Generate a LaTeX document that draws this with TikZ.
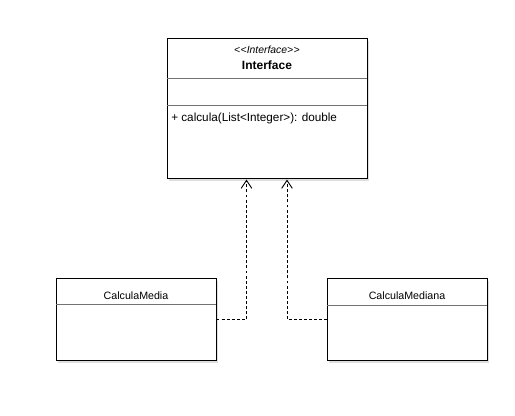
\documentclass[tikz,border=0pt]{standalone}
\usepackage{fontspec}
\setmainfont{Liberation Sans}[Ligatures=NoCommon]
\usetikzlibrary{arrows.meta,shadows}
\begin{document}
\begin{tikzpicture}[x=0.75pt,y=-0.75pt,
  box/.style={draw=black,line width=0.75pt,fill=white,drop shadow={shadow xshift=1.5pt,shadow yshift=-1.5pt,opacity=0.25,fill=gray}},
  divider/.style={draw=black!55,line width=0.6pt},
  lbl/.style={inner sep=0pt,font=\fontsize{8.8}{10}\selectfont},
  real/.style={draw=black,line width=0.7pt,dashed,dash pattern=on 2.2pt off 1.6pt,-{Straight Barb[length=6pt,width=8pt,line width=0.7pt]}}]
\useasboundingbox (0,0) rectangle (515,416);
\fill[white] (0,0) rectangle (515,416);
% Interface
\path[box] (167,39) rectangle (367,179);
\node[name=iface,inner sep=0pt,minimum width=200*0.75pt,minimum height=140*0.75pt,anchor=north west] at (167,39) {};
\draw[divider] (167,78) -- (367,78);
\draw[divider] (167,105) -- (367,105);
\node[lbl,name=ster,font=\fontsize{7.8}{9}\selectfont\itshape] at (267,50) {\textless\kern0.3pt\textless Interface\textgreater\kern0.3pt\textgreater};
\node[lbl,name=iname,font=\fontsize{9}{10}\selectfont\bfseries] at (267,65) {Interface};
\node[lbl,name=op,anchor=west] at (171,118) {+ calcula(List\textless Integer\textgreater): double};
% CalculaMedia
\path[box] (56,279) rectangle (216,361);
\node[name=media,inner sep=0pt,minimum width=160*0.75pt,minimum height=82*0.75pt,anchor=north west] at (56,279) {};
\draw[divider] (56,304) -- (216,304);
\node[lbl,name=mediat,font=\fontsize{8}{9}\selectfont] at (136,296) {CalculaMedia};
% CalculaMediana
\path[box] (327,279) rectangle (487,361);
\node[name=mediana,inner sep=0pt,minimum width=160*0.75pt,minimum height=82*0.75pt,anchor=north west] at (327,279) {};
\draw[divider] (327,305) -- (487,305);
\node[lbl,name=medianat,font=\fontsize{8}{9}\selectfont] at (407,296) {CalculaMediana};
% connectors
\coordinate (c1) at (246.5,319.5);
\coordinate (c2) at (287,319.5);
\draw[real] (media.east |- c1) -- (c1) -- (c1 |- iface.south);
\draw[real] (mediana.west |- c2) -- (c2) -- (c2 |- iface.south);
\end{tikzpicture}
\end{document}
